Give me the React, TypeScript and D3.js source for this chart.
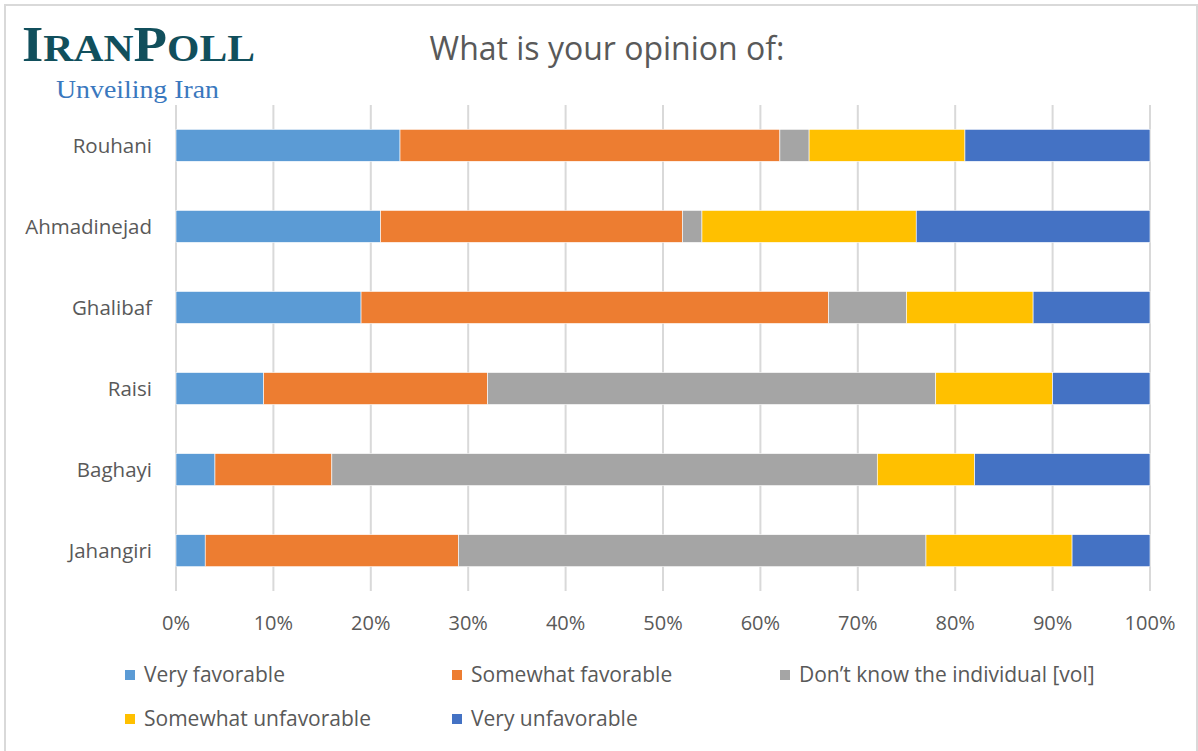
import React from "react";
import * as d3 from "d3";

const categories = ["Rouhani", "Ahmadinejad", "Ghalibaf", "Raisi", "Baghayi", "Jahangiri"];
const seriesNames = [
  "Very favorable",
  "Somewhat favorable",
  "Don’t know the individual [vol]",
  "Somewhat unfavorable",
  "Very unfavorable",
];
const veryFavorable = [23, 21, 19, 9, 4, 3];
const somewhatFavorable = [39, 31, 48, 23, 12, 26];
const dontKnow = [3, 2, 8, 46, 56, 48];
const somewhatUnfavorable = [16, 22, 13, 12, 10, 15];
const veryUnfavorable = [19, 24, 12, 10, 18, 8];
const tickValues = [0, 10, 20, 30, 40, 50, 60, 70, 80, 90, 100];
const colors = ["#5B9BD5", "#ED7D31", "#A5A5A5", "#FFC000", "#4472C4"];

const W = 1198;
const H = 751;
const plot = { left: 176, right: 1150, top: 105, bottom: 591 };

export default function App() {
  const seriesValues = [veryFavorable, somewhatFavorable, dontKnow, somewhatUnfavorable, veryUnfavorable];
  const rows = categories.map((c, i) => {
    const r: any = { cat: c };
    seriesNames.forEach((s, j) => (r[s] = seriesValues[j][i]));
    return r;
  });
  const stack = d3.stack<any>().keys(seriesNames)(rows);
  const x = d3.scaleLinear().domain([0, 100]).range([plot.left, plot.right]);
  const y = d3
    .scaleBand<string>()
    .domain(categories)
    .range([plot.top, plot.bottom])
    .paddingInner(0.605)
    .paddingOuter(0.3);

  const font = "'Segoe UI', 'Open Sans', 'Noto Sans', sans-serif";
  const serif = "'Liberation Serif', 'DejaVu Serif', serif";
  const legendPos = [
    { x: 125, y: 675 },
    { x: 452, y: 675 },
    { x: 780, y: 675 },
    { x: 125, y: 719 },
    { x: 452, y: 719 },
  ];

  return (
    <div style={{ position: "absolute", left: 0, top: 0 }}>
      <svg width={W} height={H} style={{ display: "block", background: "#fff" }}>
        <rect x={5} y={5} width={1192} height={750} fill="#fff" stroke="#d9d9d9" strokeWidth={2} />
        {/* Logo */}
        <text
          x={22}
          y={61}
          fill="#114F5C"
          fontFamily={serif}
          fontWeight={700}
          textLength={233}
          lengthAdjust="spacingAndGlyphs"
        >
          <tspan fontSize={50}>I</tspan>
          <tspan fontSize={38}>RAN</tspan>
          <tspan fontSize={50}>P</tspan>
          <tspan fontSize={38}>OLL</tspan>
        </text>
        <text
          x={56}
          y={98}
          fill="#3A78BE"
          fontSize={25}
          fontFamily={serif}
          textLength={163}
          lengthAdjust="spacingAndGlyphs"
        >
          Unveiling Iran
        </text>
        {/* Title */}
        <text x={607} y={60} textAnchor="middle" fill="#595959" fontSize={32} fontFamily={font}>
          What is your opinion of:
        </text>
        {/* Gridlines */}
        {tickValues.map((t) => (
          <line key={t} x1={x(t)} x2={x(t)} y1={plot.top} y2={plot.bottom} stroke="#d9d9d9" strokeWidth={2} />
        ))}
        {/* Bars */}
        {stack.map((s, j) => (
          <g key={s.key} fill={colors[j]}>
            {s.map((d, i) => (
              <rect
                key={i}
                x={x(d[0])}
                y={y(categories[i])}
                width={x(d[1]) - x(d[0])}
                height={y.bandwidth()}
                stroke="#ffffff"
                strokeWidth={0.6}
              />
            ))}
          </g>
        ))}
        {/* Category labels */}
        {categories.map((c) => (
          <text
            key={c}
            x={152}
            y={(y(c) as number) + y.bandwidth() / 2}
            dy="0.35em"
            textAnchor="end"
            fill="#595959"
            fontSize={20.5}
            fontFamily={font}
          >
            {c}
          </text>
        ))}
        {/* Tick labels */}
        {tickValues.map((t) => (
          <text key={t} x={x(t)} y={630} textAnchor="middle" fill="#595959" fontSize={20} fontFamily={font}>
            {t}%
          </text>
        ))}
        {/* Legend */}
        {seriesNames.map((s, j) => (
          <g key={s}>
            <rect x={legendPos[j].x} y={legendPos[j].y - 5} width={10} height={10} fill={colors[j]} />
            <text
              x={legendPos[j].x + 19}
              y={legendPos[j].y}
              dy="0.35em"
              fill="#595959"
              fontSize={21}
              fontFamily={font}
            >
              {s}
            </text>
          </g>
        ))}
      </svg>
    </div>
  );
}
